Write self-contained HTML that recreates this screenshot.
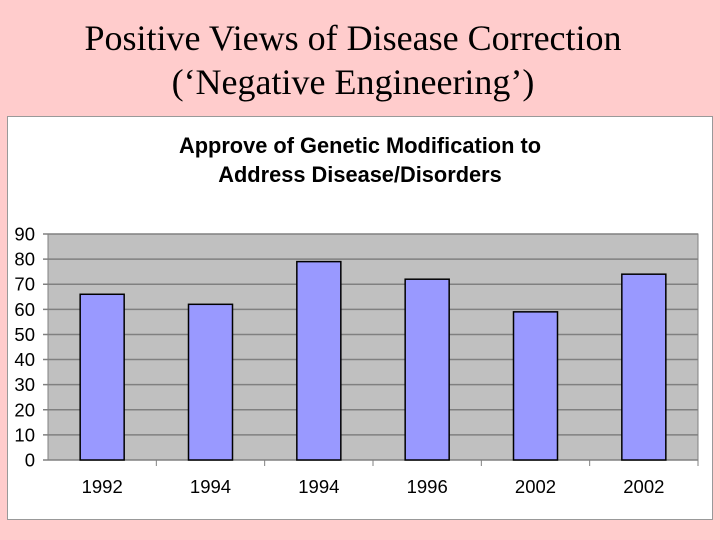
<!DOCTYPE html>
<html><head><meta charset="utf-8"><style>
body{margin:0;background:#ffcccc;width:720px;height:540px;overflow:hidden;position:relative}
#title{position:absolute;left:0;top:16px;width:706px;text-align:center;font:36px/44px "Liberation Serif",serif;color:#000}
</style></head><body>
<div id="title">Positive Views of Disease Correction<br>(‘Negative Engineering’)</div>
<svg id="chart" width="720" height="540" style="position:absolute;left:0;top:0">
<rect x="7.5" y="116.5" width="705" height="403" fill="#fff" stroke="#999"/>
<text x="360" y="153" text-anchor="middle" font-family="Liberation Sans,sans-serif" font-weight="bold" font-size="21.8">Approve of Genetic Modification to</text>
<text x="360" y="182" text-anchor="middle" font-family="Liberation Sans,sans-serif" font-weight="bold" font-size="21.8">Address Disease/Disorders</text>
<g id="g"></g>
</svg>
<script>
const categories=["1992","1994","1994","1996","2002","2002"];
const values=[66,62,79,72,59,74];
const yTicks=[0,10,20,30,40,50,60,70,80,90];
const X0=48,X1=698,Y0=460,Y1=234,MAX=90;
const y=v=>Y0-(v/MAX)*(Y0-Y1);
const bw=(X1-X0)/categories.length;
const x=i=>X0+bw*i;
const g=document.getElementById('g');
const NS="http://www.w3.org/2000/svg";
function mk(t,a){const e=document.createElementNS(NS,t);for(const k in a)e.setAttribute(k,a[k]);g.appendChild(e);return e;}
let e=mk('rect',{x:X0,y:Y1,width:X1-X0,height:Y0-Y1,fill:'#c0c0c0',stroke:'#808080'});


yTicks.forEach(t=>{
 let l=mk('line',{x1:X0-5,x2:X1,y1:y(t),y2:y(t),stroke:'#808080','stroke-width':1.5});
 
 
 let tx=mk('text',{x:35,y:y(t)+6.5,'text-anchor':'end','font-family':'Liberation Sans,sans-serif','font-size':18.5});
 tx.textContent=t;
 
 
});
categories.forEach((c,i)=>{
 let tk=mk('line',{x1:x(i+1),x2:x(i+1),y1:Y0,y2:Y0+6,stroke:'#808080'});
 
 
 let b=mk('rect',{x:x(i)+bw/2-22,y:y(values[i]),width:44,height:Y0-y(values[i]),fill:'#9999ff',stroke:'#000','stroke-width':1.5});
 
 
 let tx=mk('text',{x:x(i)+bw/2,y:493,'text-anchor':'middle','font-family':'Liberation Sans,sans-serif','font-size':18.5});
 tx.textContent=c;
 
 
});
</script>
</body></html>
